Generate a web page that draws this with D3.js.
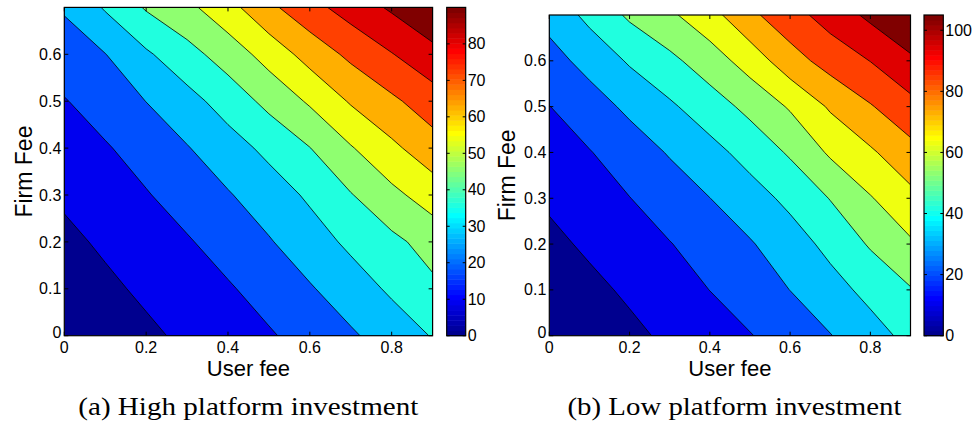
<!DOCTYPE html>
<html>
<head>
<meta charset="UTF-8">
<script src="https://cdn.jsdelivr.net/npm/d3@7"></script>
<style>
  body { margin: 0; background: #fff; }
  text { font-family: "Liberation Sans", Arial, Helvetica, sans-serif; fill: #000; }
</style>
</head>
<body>
<svg id="fig" width="977" height="425"></svg>
<script>
// grid of the two surfaces (rows = firm fee, columns = user fee)
const userFee = [0, 0.1, 0.2, 0.3, 0.4, 0.5, 0.6, 0.7, 0.8, 0.9];
const firmFee = [0, 0.1, 0.2, 0.3, 0.4, 0.5, 0.6, 0.7];

// (a) high platform investment
const highInvest = [
  [0.0, 3.7, 7.3, 10.7, 14.0, 17.1, 21.3, 25.8, 31.1, 36.5],
  [3.5, 7.2, 10.6, 13.9, 17.1, 21.4, 26.2, 31.7, 37.4, 43.2],
  [6.9, 10.4, 13.8, 17.2, 21.6, 26.3, 32.0, 37.8, 42.9, 48.4],
  [10.4, 13.9, 17.4, 21.8, 26.3, 31.6, 37.4, 44.5, 51.7, 58.3],
  [14.0, 17.2, 21.6, 26.5, 32.2, 38.2, 44.8, 53.3, 61.1, 68.2],
  [17.5, 22.0, 27.1, 32.9, 39.8, 47.5, 55.2, 63.9, 70.3, 76.8],
  [22.9, 26.8, 34.7, 41.9, 49.1, 57.5, 66.5, 74.0, 80.6, 87.2],
  [27.9, 36.9, 45.9, 51.8, 59.9, 70.0, 78.0, 84.9, 91.3, 98.1]
];

// (b) low platform investment
const lowInvest = [
  [0.0, 4.1, 8.2, 12.4, 16.4, 20.5, 25.7, 31.1, 38.0, 44.9],
  [4.0, 8.0, 12.1, 16.5, 21.1, 26.3, 31.6, 38.2, 44.9, 51.8],
  [8.0, 12.2, 16.4, 20.6, 25.5, 30.6, 37.3, 44.8, 53.6, 61.6],
  [12.1, 16.5, 20.8, 26.1, 31.4, 37.7, 44.5, 52.9, 62.3, 70.6],
  [16.4, 20.5, 26.3, 32.3, 38.6, 45.7, 53.8, 64.5, 72.0, 80.5],
  [20.8, 27.0, 33.6, 40.4, 47.6, 55.3, 64.1, 74.8, 83.2, 91.2],
  [27.8, 34.8, 43.2, 50.0, 57.9, 67.5, 79.6, 88.2, 94.7, 103.0],
  [34.9, 44.8, 54.2, 61.2, 69.7, 81.7, 90.6, 98.8, 107.3, 115.5]
];

// contour levels and colour limits
const levelsHigh = [9, 18, 27, 36, 45, 54, 63, 72, 81, 90];
const levelsLow = [10.5, 21, 31.5, 42, 52.5, 63, 73.5, 84, 94.5, 105];

const xTicks = [0, 0.2, 0.4, 0.6, 0.8];
const yTicks = [0, 0.1, 0.2, 0.3, 0.4, 0.5, 0.6];
const cbTicksHigh = [0, 10, 20, 30, 40, 50, 60, 70, 80];
const cbTicksLow = [0, 20, 40, 60, 80, 100];

const xLabel = "User fee";
const yLabel = "Firm Fee";
const captions = ["(a) High platform investment", "(b) Low platform investment"];

// matlab jet(64)
function jet64(i) { // i = 1..64
  let r, g, b;
  r = i < 25 ? 0 : i <= 40 ? (i - 24) / 16 : i <= 55 ? 1 : (72 - i) / 16;
  g = i < 9 ? 0 : i <= 24 ? (i - 8) / 16 : i <= 39 ? 1 : i <= 55 ? (56 - i) / 16 : 0;
  b = i <= 8 ? (i + 8) / 16 : i <= 23 ? 1 : i <= 39 ? (40 - i) / 16 : 0;
  return d3.rgb(r * 255, g * 255, b * 255).formatHex();
}
const jet = d3.range(1, 65).map(jet64);

const svg = d3.select("#fig");

const panels = [
  { id: "a", z: highInvest, levels: levelsHigh, clim: [0, 90], cbTicks: cbTicksHigh,
    plot: { x0: 64.3, x1: 432.6, y0: 7.4, y1: 335.7 },
    cb: { x0: 446.7, x1: 465.7 },
    yLabelX: 32, caption: captions[0], capX: 248.3, capW: 340 },
  { id: "b", z: lowInvest, levels: levelsLow, clim: [0, 105], cbTicks: cbTicksLow,
    plot: { x0: 549.3, x1: 910.5, y0: 15, y1: 335.7 },
    cb: { x0: 924, x1: 943.3 },
    yLabelX: 515, caption: captions[1], capX: 734.5, capW: 334 }
];

panels.forEach(drawPanel);

function drawPanel(P) {
  const nx = userFee.length, ny = firmFee.length;
  const x = d3.scaleLinear().domain(d3.extent(userFee)).range([P.plot.x0, P.plot.x1]);
  const y = d3.scaleLinear().domain(d3.extent(firmFee)).range([P.plot.y1, P.plot.y0]);
  // grid index -> data value
  const gx = d3.scaleLinear().domain([0, nx - 1]).range(d3.extent(userFee));
  const gy = d3.scaleLinear().domain([0, ny - 1]).range(d3.extent(firmFee));
  const colorOf = v => {
    const t = (v - P.clim[0]) / (P.clim[1] - P.clim[0]);
    return jet[Math.max(0, Math.min(63, Math.floor(t * 64)))];
  };

  const g = svg.append("g");
  g.append("clipPath").attr("id", "clip" + P.id)
    .append("rect")
    .attr("x", P.plot.x0).attr("y", P.plot.y0)
    .attr("width", P.plot.x1 - P.plot.x0).attr("height", P.plot.y1 - P.plot.y0);

  const area = g.append("g").attr("clip-path", `url(#clip${P.id})`);
  // lowest band
  area.append("rect")
    .attr("x", P.plot.x0).attr("y", P.plot.y0)
    .attr("width", P.plot.x1 - P.plot.x0).attr("height", P.plot.y1 - P.plot.y0)
    .attr("fill", colorOf(P.clim[0]));

  const proj = d3.geoTransform({
    point: function(px, py) { this.stream.point(x(gx(px - 0.5)), y(gy(py - 0.5))); }
  });
  const path = d3.geoPath(proj);
  const bands = d3.contours().size([nx, ny]).thresholds(P.levels)(P.z.flat());

  area.selectAll("path.band").data(bands).join("path")
    .attr("class", "band")
    .attr("d", path)
    .attr("fill", d => colorOf(d.value))
    .attr("stroke", "#000")
    .attr("stroke-width", 0.8)
    .attr("stroke-linejoin", "round");

  // axes box + ticks
  const tl = 4;
  g.append("rect")
    .attr("x", P.plot.x0).attr("y", P.plot.y0)
    .attr("width", P.plot.x1 - P.plot.x0).attr("height", P.plot.y1 - P.plot.y0)
    .attr("fill", "none").attr("stroke", "#000").attr("stroke-width", 1.2);
  xTicks.forEach(t => {
    g.append("line").attr("x1", x(t)).attr("x2", x(t)).attr("y1", P.plot.y1).attr("y2", P.plot.y1 - tl).attr("stroke", "#000");
    g.append("line").attr("x1", x(t)).attr("x2", x(t)).attr("y1", P.plot.y0).attr("y2", P.plot.y0 + tl).attr("stroke", "#000");
    g.append("text").attr("x", x(t)).attr("y", P.plot.y1 + 17)
      .attr("text-anchor", "middle").attr("font-size", 16).text(String(t));
  });
  yTicks.forEach(t => {
    g.append("line").attr("x1", P.plot.x0).attr("x2", P.plot.x0 + tl).attr("y1", y(t)).attr("y2", y(t)).attr("stroke", "#000");
    g.append("line").attr("x1", P.plot.x1).attr("x2", P.plot.x1 - tl).attr("y1", y(t)).attr("y2", y(t)).attr("stroke", "#000");
    g.append("text").attr("x", P.plot.x0 - 3).attr("y", y(t) - (t === 0 ? 3 : 0)).attr("dy", "0.35em")
      .attr("text-anchor", "end").attr("font-size", 16).text(String(t));
  });

  g.append("text")
    .attr("x", (P.plot.x0 + P.plot.x1) / 2).attr("y", 376)
    .attr("text-anchor", "middle").attr("font-size", 22).text(xLabel);
  g.append("text")
    .attr("transform", `translate(${P.yLabelX},${(P.plot.y0 + P.plot.y1) / 2}) rotate(-90)`)
    .attr("text-anchor", "middle").attr("font-size", 23).text(yLabel);

  // colorbar
  const cy = d3.scaleLinear().domain(P.clim).range([P.plot.y1, P.plot.y0]);
  const step = (P.clim[1] - P.clim[0]) / 64;
  g.selectAll("rect.cb").data(jet).join("rect")
    .attr("class", "cb")
    .attr("x", P.cb.x0).attr("width", P.cb.x1 - P.cb.x0)
    .attr("y", (c, i) => cy(P.clim[0] + (i + 1) * step))
    .attr("height", (c, i) => cy(P.clim[0] + i * step) - cy(P.clim[0] + (i + 1) * step) + 0.5)
    .attr("fill", c => c);
  g.append("rect")
    .attr("x", P.cb.x0).attr("y", P.plot.y0)
    .attr("width", P.cb.x1 - P.cb.x0).attr("height", P.plot.y1 - P.plot.y0)
    .attr("fill", "none").attr("stroke", "#000").attr("stroke-width", 1.2);
  P.cbTicks.forEach(t => {
    g.append("line").attr("x1", P.cb.x0).attr("x2", P.cb.x0 + 3).attr("y1", cy(t)).attr("y2", cy(t)).attr("stroke", "#000");
    g.append("line").attr("x1", P.cb.x1).attr("x2", P.cb.x1 - 3).attr("y1", cy(t)).attr("y2", cy(t)).attr("stroke", "#000");
    g.append("text").attr("x", P.cb.x1 + 2).attr("y", cy(t)).attr("dy", "0.35em")
      .attr("font-size", 16).text(String(t));
  });

  // caption
  g.append("text")
    .attr("x", P.capX).attr("y", 415)
    .attr("text-anchor", "middle")
    .style("font-family", '"Liberation Serif", "Times New Roman", serif')
    .attr("font-size", 25)
    .attr("textLength", P.capW).attr("lengthAdjust", "spacingAndGlyphs")
    .text(P.caption);
}
</script>
</body>
</html>
